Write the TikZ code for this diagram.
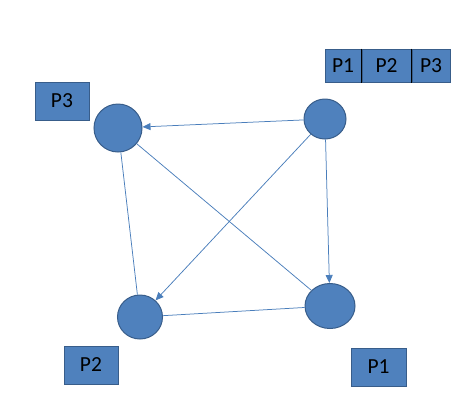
\documentclass[tikz,border=0pt]{standalone}
\usepackage{fontspec}
\setmainfont{Carlito}
\usetikzlibrary{shapes.geometric,arrows.meta}
\definecolor{fillb}{HTML}{4F81BD}
\definecolor{edgeb}{HTML}{385D8A}
\definecolor{lineb}{HTML}{4A7EBB}
\tikzset{
  vert/.style={ellipse,fill=fillb,draw=edgeb,line width=1pt,inner sep=0pt},
  lab/.style={rectangle,fill=fillb,draw=edgeb,line width=1pt,inner sep=0pt,font=\fontsize{21.5}{23}\selectfont,text=black},
  conn/.style={draw=lineb,line width=0.75pt},
  arr/.style={conn,-{Triangle[length=8pt,width=7pt]}}
}
\begin{document}
\begin{tikzpicture}[x=1pt,y=-1pt]
\useasboundingbox (0,0) rectangle (460,402);
% vertices
\node[vert,minimum width=48pt,minimum height=48pt] (tl) at (118,128) {};
\node[vert,minimum width=42pt,minimum height=40pt] (tr) at (325,119) {};
\node[vert,minimum width=45pt,minimum height=44pt] (bl) at (140,317) {};
\node[vert,minimum width=50pt,minimum height=45pt] (br) at (330,306) {};
% labels
\node[lab,minimum width=54pt,minimum height=38pt] (l3) at (62,101) {P3};
\node[lab,minimum width=54pt,minimum height=38pt] (l2) at (91,365) {P2};
\node[lab,minimum width=55pt,minimum height=38pt] (l1) at (378.5,367) {P1};
% queue
\node[lab,minimum width=36pt,minimum height=33pt] (q1) at (343,65.5) {P1};
\node[lab,minimum width=49pt,minimum height=33pt,anchor=west] (q2) at (q1.east) {P2};
\node[lab,minimum width=38pt,minimum height=33pt,anchor=west] (q3) at (q2.east) {P3};
\draw[black,line width=0.75pt] (q1.north east) -- (q1.south east);
\draw[black,line width=0.75pt] (q2.north east) -- (q2.south east);
% connectors
\draw[arr] (tr) -- (tl);
\draw[arr] (tr) -- (bl);
\draw[arr] (tr) -- (br);
\draw[conn] (tl) -- (br);
\draw[conn] (tl) -- (bl);
\draw[conn] (bl) -- (br);
\end{tikzpicture}
\end{document}
